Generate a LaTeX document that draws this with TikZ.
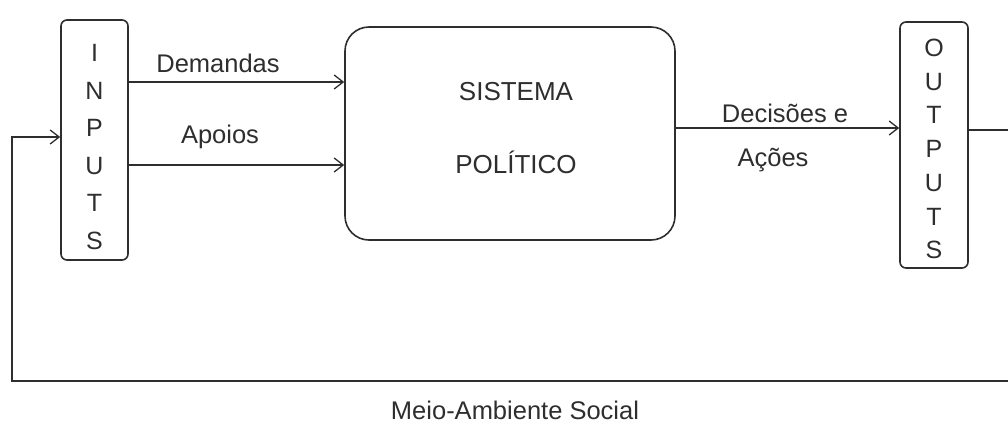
\documentclass[tikz,border=0pt]{standalone}
\usepackage{fontspec}
\setmainfont{Liberation Sans}
\usetikzlibrary{arrows.meta}
\definecolor{ink}{HTML}{2E2E2E}
\begin{document}
\begin{tikzpicture}[x=1pt,y=-1pt,
  boxline/.style={draw=ink, line width=1.6pt},
  tall/.style={boxline, rounded corners=6pt, inner sep=0pt},
  bigbox/.style={boxline, rounded corners=24pt, inner sep=0pt},
  inner/.style={text=ink, inner sep=0pt, align=center},
  lbl/.style={text=ink, inner sep=0pt, font=\fontsize{25.5}{28}\selectfont},
  conn/.style={draw=ink, line width=1.5pt},
  arr/.style={conn, -{Straight Barb[length=9pt, width=14pt, line width=1.3pt]}}
]
\useasboundingbox[fill=white] (0,0) rectangle (1008,429);

\node[tall, minimum width=67pt, minimum height=240pt] (inputs) at (94.5,140) {};
\node[inner, font=\fontsize{25}{37.5}\selectfont, yshift=-7pt] (inputstxt) at (inputs.center)
      {I\\N\\P\\U\\T\\S};
\node[bigbox, minimum width=330pt, minimum height=213pt] (sys) at (510,133.5) {};
\node[inner, font=\fontsize{26}{73}\selectfont, yshift=5pt, xshift=6pt] (systxt) at (sys.center)
      {SISTEMA\\POLÍTICO};
\node[tall, minimum width=68pt, minimum height=246pt] (outputs) at (934,145) {};
\node[inner, font=\fontsize{25}{33.7}\selectfont, yshift=-4pt] (outputstxt) at (outputs.center)
      {O\\U\\T\\P\\U\\T\\S};

\coordinate (ydem) at (0,82);
\coordinate (yapo) at (0,165);
\coordinate (ydec) at (0,128);
\coordinate (yout) at (0,130);
\coordinate (yfb) at (0,137);
\coordinate (rt) at (1008,130);
\coordinate (rb) at (1008,381);
\coordinate (lb) at (12,381);
\coordinate (lt) at (12,137);

\draw[arr] (inputs.east |- ydem) -- (sys.west |- ydem);
\draw[arr] (inputs.east |- yapo) -- (sys.west |- yapo);
\draw[arr] (sys.east |- ydec) -- (outputs.west |- ydec);
\draw[conn] (outputs.east |- yout) -- (rt);
\draw[arr] (rb) -- (lb) -- (lt) -- (inputs.west |- yfb);

\node[lbl] (dem) at (218,63) {Demandas};
\node[lbl] (apo) at (220,137) {Apoios};
\node[lbl] (dec) at (785,113) {Decisões e};
\node[lbl] (aco) at (773,160) {Ações};
\node[lbl] (meio) at (515,410) {Meio-Ambiente Social};
\end{tikzpicture}
\end{document}
